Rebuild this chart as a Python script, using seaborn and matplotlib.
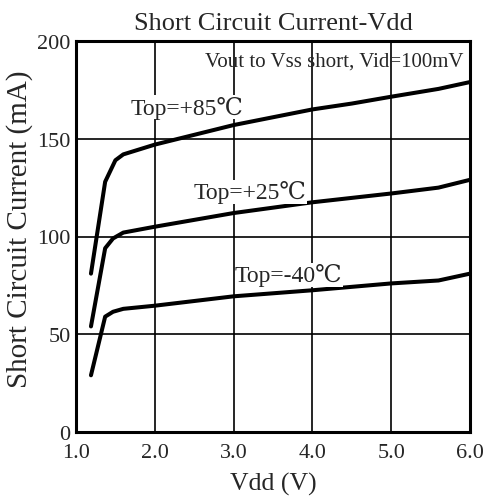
import matplotlib
matplotlib.use("Agg")
import matplotlib.pyplot as plt
import seaborn as sns
import pandas as pd

# Data
vdd_85 = [1.19, 1.37, 1.5, 1.6, 2.0, 2.5, 3.0, 3.5, 4.0, 4.5, 5.0, 5.6, 6.0]
cur_85 = [81, 128, 139, 142, 147, 152, 157, 161, 165, 168, 171.5, 175.5, 179]
vdd_25 = [1.19, 1.37, 1.47, 1.6, 2.0, 3.0, 4.0, 5.0, 5.6, 6.0]
cur_25 = [54, 94, 99, 102, 105, 112, 117.5, 122, 125, 129]
vdd_m40 = [1.19, 1.37, 1.47, 1.6, 2.0, 3.0, 4.0, 5.0, 5.6, 6.0]
cur_m40 = [29, 59, 61.5, 63, 64.6, 69.4, 72.5, 76, 77.5, 81]
series_labels = ["Top=+85\u2103", "Top=+25\u2103", "Top=-40\u2103"]
label_xy = [(2.41, 166), (3.21, 123), (3.70, 80.5)]
x_ticks = [1.0, 2.0, 3.0, 4.0, 5.0, 6.0]
y_ticks = [0, 50, 100, 150, 200]
title = "Short Circuit Current-Vdd"
note = "Vout to Vss short, Vid=100mV"

rows = []
for lab, xs, ys in zip(series_labels, [vdd_85, vdd_25, vdd_m40], [cur_85, cur_25, cur_m40]):
    for x, y in zip(xs, ys):
        rows.append({"Vdd": x, "I": y, "Top": lab})
df = pd.DataFrame(rows)

sns.set_theme(style="white")
fam = ["Liberation Serif", "DejaVu Serif", "DejaVu Sans"]
plt.rcParams["font.family"] = fam

fig = plt.figure(figsize=(4.86, 5.02), dpi=100)
ax = fig.add_axes([76/486, 69/502, (470-76)/486, (433-42)/502])

sns.lineplot(data=df, x="Vdd", y="I", hue="Top", palette=["black"]*3,
             sort=False, legend=False, linewidth=2.9, ax=ax, zorder=3)

ax.set_xlim(1.0, 6.0)
ax.set_ylim(0, 200)
ax.set_xticks(x_ticks)
ax.set_xticklabels([f"{v:.1f}" for v in x_ticks], fontsize=16)
ax.set_yticks(y_ticks)
ax.set_yticklabels([str(v) for v in y_ticks], fontsize=16)
ax.tick_params(axis="y", length=0, pad=4)
ax.tick_params(axis="x", length=0, pad=8)
ax.grid(True, color="black", linewidth=1.2)
for s in ax.spines.values():
    s.set_color("black")
    s.set_linewidth(2.2)
    s.set_zorder(4)

ax.set_xlabel("Vdd (V)", fontsize=18.5, labelpad=7)
ax.set_ylabel("Short Circuit Current (mA)", fontsize=21)
ax.yaxis.set_label_coords(-0.108, 0.52)
ax.set_title(title, fontsize=19, pad=9)

for lab, (x, y) in zip(series_labels, label_xy):
    ax.text(x, y, lab, ha="center", va="center", fontsize=17, zorder=5,
            bbox=dict(facecolor="white", edgecolor="none", pad=0.3))
ax.text(5.92, 190, note, ha="right", va="center", fontsize=15, zorder=5)

fig.savefig("out.png", dpi=100)
